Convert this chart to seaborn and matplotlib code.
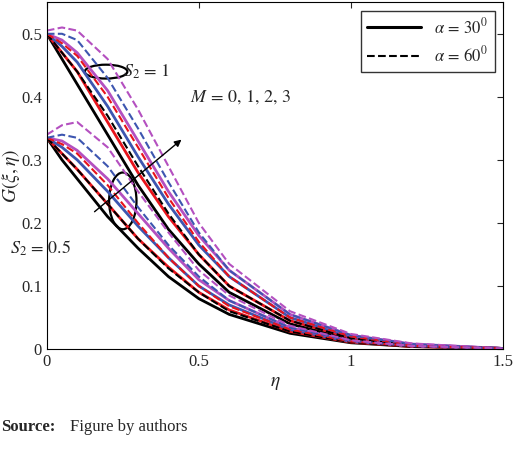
import numpy as np
import pandas as pd
import matplotlib
matplotlib.use('Agg')
import matplotlib.pyplot as plt
import seaborn as sns
from matplotlib.patches import Ellipse

sns.set_style('white')
plt.rcParams['font.family'] = ['Liberation Serif', 'DejaVu Serif']
plt.rcParams['mathtext.fontset'] = 'stix'

eta = [0, 0.05, 0.1, 0.2, 0.3, 0.4, 0.5, 0.6, 0.8, 1.0, 1.2, 1.5]

# S2 = 1, alpha = 30 (solid), M = 0..3
s1_a30 = [
    [0.5, 0.46, 0.42, 0.34, 0.26, 0.19, 0.135, 0.09, 0.04, 0.015, 0.005, 0.001],
    [0.5, 0.47, 0.44, 0.36, 0.28, 0.21, 0.15, 0.10, 0.045, 0.018, 0.006, 0.001],
    [0.5, 0.48, 0.455, 0.385, 0.305, 0.23, 0.165, 0.115, 0.05, 0.02, 0.007, 0.001],
    [0.5, 0.49, 0.47, 0.41, 0.33, 0.25, 0.18, 0.125, 0.055, 0.022, 0.008, 0.001],
]
# S2 = 1, alpha = 60 (dashed)
s1_a60 = [
    [0.5, 0.47, 0.44, 0.37, 0.29, 0.215, 0.15, 0.10, 0.045, 0.017, 0.006, 0.001],
    [0.5, 0.485, 0.465, 0.40, 0.32, 0.24, 0.17, 0.115, 0.05, 0.02, 0.007, 0.001],
    [0.5, 0.50, 0.49, 0.43, 0.35, 0.265, 0.185, 0.125, 0.055, 0.022, 0.008, 0.001],
    [0.505, 0.51, 0.505, 0.46, 0.38, 0.29, 0.20, 0.135, 0.06, 0.024, 0.009, 0.001],
]
# S2 = 0.5, alpha = 30
s05_a30 = [
    [0.335, 0.30, 0.27, 0.21, 0.16, 0.115, 0.08, 0.055, 0.025, 0.01, 0.004, 0.001],
    [0.335, 0.31, 0.285, 0.23, 0.175, 0.13, 0.09, 0.062, 0.028, 0.011, 0.004, 0.001],
    [0.335, 0.32, 0.30, 0.25, 0.195, 0.145, 0.10, 0.07, 0.031, 0.012, 0.005, 0.001],
    [0.335, 0.33, 0.315, 0.27, 0.215, 0.16, 0.11, 0.077, 0.034, 0.013, 0.005, 0.001],
]
# S2 = 0.5, alpha = 60
s05_a60 = [
    [0.335, 0.31, 0.285, 0.23, 0.175, 0.128, 0.09, 0.06, 0.028, 0.011, 0.004, 0.001],
    [0.335, 0.325, 0.31, 0.26, 0.20, 0.145, 0.10, 0.068, 0.031, 0.012, 0.005, 0.001],
    [0.335, 0.34, 0.335, 0.29, 0.225, 0.165, 0.115, 0.077, 0.034, 0.013, 0.005, 0.001],
    [0.34, 0.355, 0.36, 0.32, 0.25, 0.185, 0.125, 0.085, 0.037, 0.014, 0.005, 0.001],
]
m_colors = ['black', '#e8131b', '#3d56b0', '#b450c0']

fig = plt.figure(figsize=(5.2, 4.51), dpi=100)
ax = fig.add_axes([0.09, 0.226, 0.877, 0.769])

for group, ls in [(s1_a30, '-'), (s05_a30, '-'), (s1_a60, '--'), (s05_a60, '--')]:
    for m, vals in enumerate(group):
        df = pd.DataFrame({'eta': eta, 'G': vals})
        sns.lineplot(data=df, x='eta', y='G', ax=ax, color=m_colors[m],
                     linestyle=ls, linewidth=2.0 if ls == '-' else 1.5)

ax.plot([], [], 'k-', lw=2.2, label=r'$\alpha\,=\,30^0$')
ax.plot([], [], 'k--', lw=1.5, label=r'$\alpha\,=\,60^0$')
ax.legend(loc='upper right', fontsize=12, frameon=True, fancybox=False,
          edgecolor='black', handlelength=3.2)

ax.add_patch(Ellipse((0.195, 0.44), 0.14, 0.022, fill=False, lw=1.6, color='black'))
ax.text(0.25, 0.44, r'$S_2\,=\,1$', fontsize=13, va='center')
ax.add_patch(Ellipse((0.25, 0.235), 0.09, 0.09, fill=False, lw=1.6, color='black'))
ax.text(-0.12, 0.16, r'$S_2\,=\,0.5$', fontsize=13, va='center', clip_on=False)
ax.annotate('', xy=(0.45, 0.335), xytext=(0.15, 0.215),
            arrowprops=dict(arrowstyle='-|>', color='black', lw=1.0))
ax.text(0.47, 0.40, r'$M\,=\,0,\,1,\,2,\,3$', fontsize=13, va='center')

ax.set_xlim(0, 1.5)
ax.set_ylim(0, 0.55)
ax.set_xticks([0, 0.5, 1, 1.5])
ax.set_xticklabels(['0', '0.5', '1', '1.5'])
ax.set_yticks([0, 0.1, 0.2, 0.3, 0.4, 0.5])
ax.set_yticklabels(['0', '0.1', '0.2', '0.3', '0.4', '0.5'])
ax.tick_params(direction='in', labelsize=12, length=4, top=True, right=True)
ax.set_xlabel(r'$\eta$', fontsize=14)
ax.set_ylabel(r'$G(\xi,\eta)$', fontsize=14)
ax.yaxis.set_label_coords(-0.055, 0.5)
for s in ax.spines.values():
    s.set_color('black')
    s.set_linewidth(0.8)

fig.text(0.003, 0.035, 'Source:', fontsize=12, va='bottom', fontweight='bold')
fig.text(0.135, 0.035, 'Figure by authors', fontsize=12, va='bottom')

fig.savefig('out.png', dpi=100)
